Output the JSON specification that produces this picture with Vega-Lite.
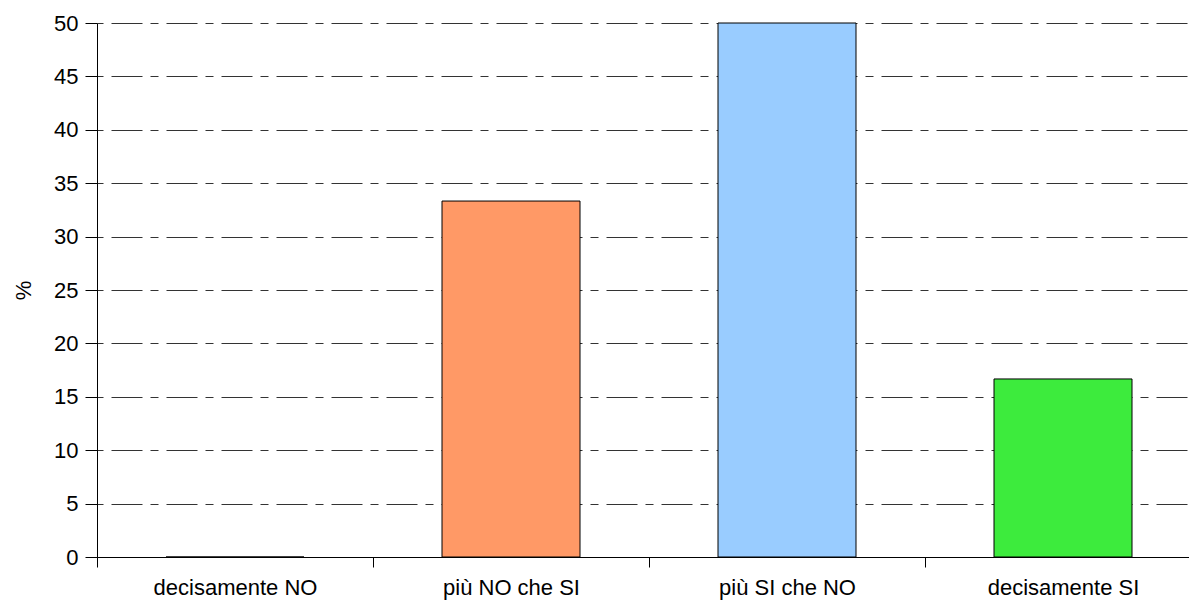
{
  "$schema": "https://vega.github.io/schema/vega-lite/v6.json",
  "autosize": "none",
  "padding": {"left": 97, "top": 23, "right": 0, "bottom": 43},
  "width": 1104,
  "height": 534,
  "background": "white",
  "config": {
    "view": {"stroke": null},
    "font": "Liberation Sans"
  },
  "data": {
    "values": [
      {"categoria": "decisamente NO", "valore": 0},
      {"categoria": "più NO che SI", "valore": 33.33},
      {"categoria": "più SI che NO", "valore": 50},
      {"categoria": "decisamente SI", "valore": 16.67}
    ]
  },
  "mark": {"type": "bar", "stroke": "black", "strokeWidth": 1, "width": {"band": 0.5}},
  "encoding": {
    "x": {
      "field": "categoria",
      "type": "nominal",
      "sort": null,
      "scale": {"paddingInner": 0, "paddingOuter": 0},
      "axis": {
        "title": null,
        "labelAngle": 0,
        "labelFontSize": 22,
        "labelColor": "black",
        "labelPadding": 10,
        "tickBand": "extent",
        "tickSize": 10,
        "tickColor": "black",
        "domainColor": "black",
        "grid": false
      }
    },
    "y": {
      "field": "valore",
      "type": "quantitative",
      "scale": {"domain": [0, 50], "nice": false},
      "axis": {
        "title": "%",
        "titleFontSize": 22,
        "titleFontWeight": "normal",
        "titleColor": "black",
        "titlePadding": 18,
        "values": [0, 5, 10, 15, 20, 25, 30, 35, 40, 45, 50],
        "labelFontSize": 22,
        "labelColor": "black",
        "labelPadding": 7,
        "tickSize": 12,
        "tickColor": "black",
        "domainColor": "black",
        "grid": true,
        "gridColor": "#333333",
        "gridWidth": 1,
        "gridDash": [31, 8, 8, 8],
        "gridDashOffset": 41
      }
    },
    "color": {
      "field": "categoria",
      "type": "nominal",
      "scale": {
        "domain": ["decisamente NO", "più NO che SI", "più SI che NO", "decisamente SI"],
        "range": ["#FFFFFF", "#FF9966", "#99CCFF", "#3DEB3D"]
      },
      "legend": null
    }
  }
}
